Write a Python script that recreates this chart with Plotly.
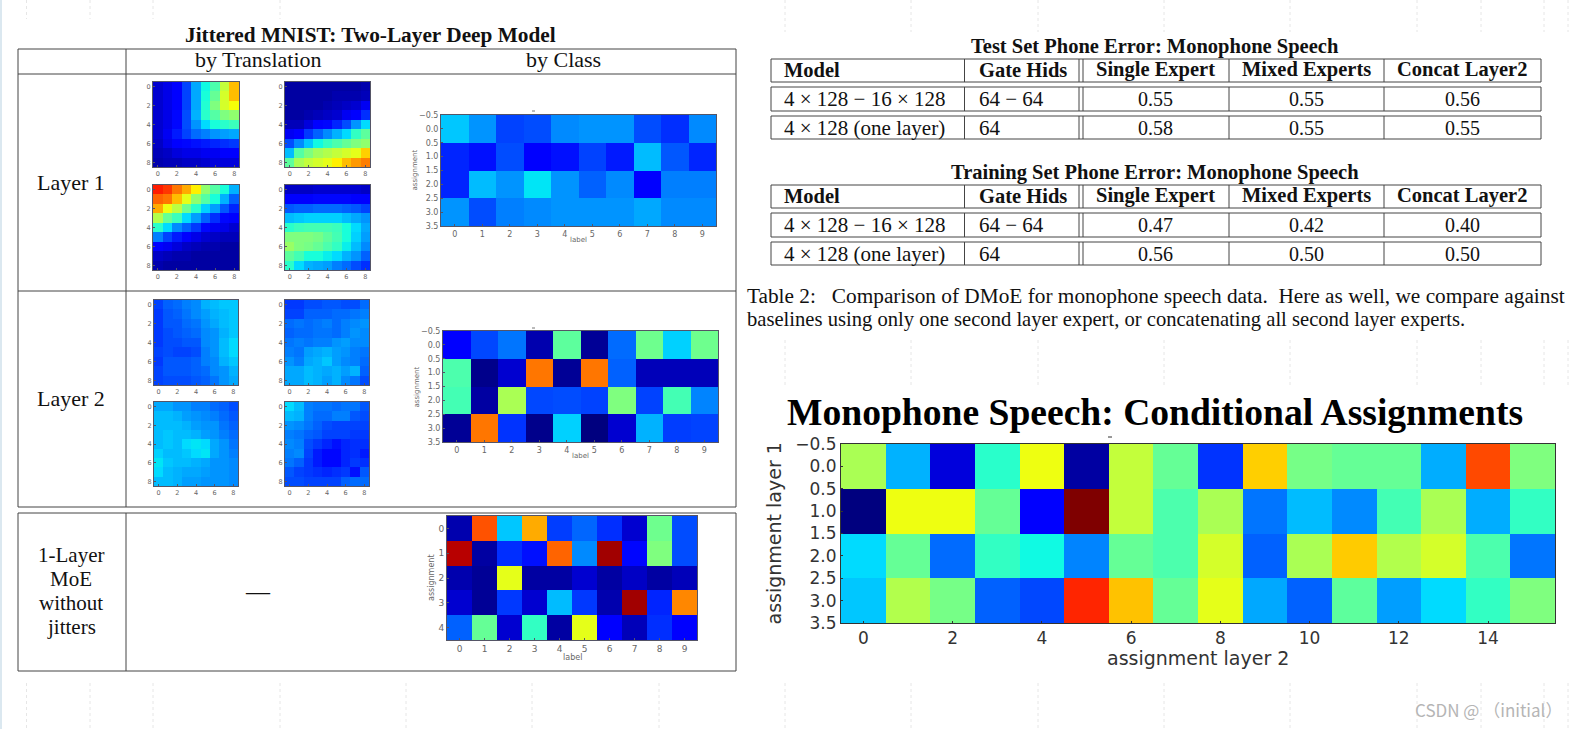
import plotly.graph_objects as go

# ---------- data ----------
L1_A = [[.07,.09,.12,.19,.29,.37,.44,.58,.70],[.07,.09,.12,.19,.29,.38,.47,.60,.70],[.07,.09,.12,.19,.29,.39,.50,.60,.64],
        [.07,.09,.13,.20,.30,.40,.45,.50,.52],[.07,.09,.13,.20,.27,.34,.38,.40,.42],[.07,.10,.15,.19,.23,.25,.27,.28,.29],
        [.06,.09,.11,.13,.14,.15,.16,.17,.18],[.05,.06,.08,.09,.09,.10,.10,.11,.11],[.04,.05,.05,.06,.06,.07,.08,.08,.08]]
L1_B = [[.03,.03,.03,.03,.03,.03,.03,.03,.04],[.03,.03,.03,.03,.03,.04,.04,.04,.05],[.03,.03,.03,.03,.04,.05,.06,.07,.10],
        [.03,.03,.04,.05,.06,.07,.10,.12,.17],[.05,.05,.08,.11,.13,.16,.20,.27,.34],[.10,.11,.18,.22,.26,.30,.34,.41,.46],
        [.20,.26,.32,.37,.41,.44,.47,.50,.52],[.31,.45,.50,.54,.56,.58,.60,.62,.68],[.46,.55,.58,.60,.62,.65,.70,.74,.77]]
L1_C = [[.88,.85,.78,.72,.65,.52,.45,.38,.30],[.80,.78,.70,.62,.52,.45,.38,.30,.22],[.72,.63,.57,.48,.40,.33,.28,.21,.16],
        [.56,.47,.42,.34,.28,.22,.17,.13,.11],[.40,.34,.26,.22,.18,.13,.10,.09,.07],[.25,.19,.15,.11,.09,.07,.06,.05,.05],
        [.11,.10,.08,.06,.05,.04,.04,.03,.03],[.06,.05,.04,.04,.03,.03,.03,.03,.03],[.04,.03,.03,.03,.03,.03,.03,.03,.03]]
L1_D = [[.06,.06,.06,.07,.07,.07,.07,.07,.06],[.11,.12,.12,.13,.13,.13,.13,.12,.11],[.21,.22,.22,.23,.23,.23,.22,.21,.19],
        [.31,.32,.33,.33,.33,.33,.31,.29,.27],[.40,.42,.43,.43,.43,.42,.38,.34,.29],[.50,.50,.50,.49,.46,.43,.38,.33,.28],
        [.53,.50,.49,.47,.44,.41,.36,.31,.26],[.46,.43,.38,.38,.36,.34,.30,.27,.22],[.40,.34,.30,.29,.28,.25,.23,.20,.17]]
L2_A = [[.19,.22,.23,.25,.26,.30,.31,.32,.32],[.18,.21,.22,.24,.26,.28,.30,.31,.32],[.18,.21,.21,.23,.24,.27,.29,.31,.32],
        [.18,.20,.21,.22,.23,.26,.27,.30,.32],[.18,.20,.20,.21,.21,.26,.27,.31,.34],[.19,.20,.19,.19,.20,.25,.27,.31,.34],
        [.18,.21,.21,.21,.22,.25,.26,.30,.32],[.19,.21,.21,.21,.22,.23,.26,.27,.30],[.19,.20,.20,.20,.21,.22,.24,.27,.29]]
L2_B = [[.18,.18,.20,.20,.21,.21,.20,.20,.23],[.19,.19,.22,.22,.22,.23,.23,.24,.25],[.23,.24,.23,.24,.25,.23,.25,.26,.27],
        [.22,.23,.23,.24,.24,.23,.25,.27,.26],[.24,.25,.24,.25,.25,.27,.28,.26,.26],[.25,.24,.28,.29,.30,.28,.27,.25,.24],
        [.27,.25,.29,.30,.32,.28,.26,.25,.23],[.29,.29,.31,.30,.29,.30,.28,.30,.22],[.29,.29,.31,.30,.28,.30,.26,.24,.20]]
L2_C = [[.29,.29,.27,.27,.25,.25,.23,.22,.20],[.31,.31,.30,.28,.27,.26,.25,.23,.21],[.31,.31,.31,.30,.28,.27,.27,.24,.22],
        [.31,.32,.31,.31,.30,.28,.27,.25,.23],[.31,.32,.31,.34,.35,.34,.29,.27,.24],[.33,.31,.31,.32,.34,.35,.29,.27,.25],
        [.35,.32,.31,.31,.30,.29,.27,.27,.26],[.34,.31,.30,.29,.29,.28,.27,.27,.26],[.31,.31,.30,.28,.28,.27,.27,.27,.26]]
L2_D = [[.34,.31,.25,.24,.24,.23,.24,.24,.21],[.31,.30,.25,.23,.23,.25,.25,.21,.20],[.27,.26,.24,.22,.20,.19,.19,.19,.19],
        [.25,.24,.22,.21,.19,.19,.19,.18,.18],[.26,.25,.20,.18,.16,.14,.16,.17,.17],[.25,.26,.19,.15,.13,.13,.16,.17,.15],
        [.24,.22,.18,.15,.13,.13,.16,.18,.17],[.21,.19,.18,.17,.16,.17,.18,.14,.21],[.20,.20,.19,.19,.19,.19,.22,.23,.23]]
CLASS_L1 = [[.32,.27,.19,.20,.26,.27,.27,.20,.17,.26],[.16,.14,.20,.12,.14,.19,.15,.31,.21,.16],
            [.16,.31,.27,.35,.27,.22,.26,.12,.25,.25],[.27,.20,.25,.26,.27,.27,.27,.29,.26,.26]]
CLASS_L2 = [[.11,.195,.24,.04,.46,.02,.23,.48,.33,.48],[.44,.01,.07,.78,.02,.78,.22,.05,.05,.05],
            [.43,.03,.55,.195,.20,.19,.50,.19,.43,.255],[.02,.78,.175,.01,.33,.00,.07,.30,.185,.19]]
CLASS_NOJIT = [[.04,.82,.32,.72,.185,.225,.17,.07,.48,.20],[.95,.03,.17,.14,.80,.26,.97,.13,.50,.20],
               [.04,.02,.62,.03,.03,.07,.03,.06,.03,.05],[.07,.02,.18,.07,.31,.18,.04,.97,.16,.76],
               [.22,.47,.07,.41,.03,.62,.12,.05,.17,.12]]
MONO = [[.55,.30,.08,.40,.63,.03,.58,.47,.175,.68,.49,.47,.47,.295,.83,.50],
        [.00,.63,.63,.47,.11,1.0,.58,.44,.55,.24,.31,.26,.43,.55,.295,.41],
        [.34,.47,.23,.41,.37,.255,.47,.44,.60,.22,.55,.685,.56,.60,.44,.24],
        [.32,.56,.49,.22,.195,.87,.695,.47,.62,.29,.22,.46,.28,.34,.41,.50]]
HEADERS = ["Model", "Gate Hids", "Single Expert", "Mixed Experts", "Concat Layer2"]
MODELS = ["4 × 128 − 16 × 128", "4 × 128 (one layer)"]
GATES = ["64 − 64", "64"]
TEST_ERR = [["0.55", "0.55", "0.56"], ["0.58", "0.55", "0.55"]]
TRAIN_ERR = [["0.47", "0.42", "0.40"], ["0.56", "0.50", "0.50"]]

# ---------- helpers ----------
W, H = 1569, 729
JET = [[0,"rgb(0,0,127)"],[.11,"rgb(0,0,255)"],[.125,"rgb(0,0,255)"],[.34,"rgb(0,219,255)"],[.35,"rgb(0,229,246)"],
       [.375,"rgb(20,255,222)"],[.5,"rgb(127,255,127)"],[.64,"rgb(246,255,8)"],[.65,"rgb(255,240,0)"],[.66,"rgb(255,225,0)"],
       [.89,"rgb(255,19,0)"],[.91,"rgb(229,0,0)"],[1,"rgb(127,0,0)"]]
SERIF, SANS = "Liberation Serif", "DejaVu Sans"
fig = go.Figure()
shapes, notes = [], []
count = 0

def px(x): return x / W
def py(y): return 1 - y / H

def line(x0, y0, x1, y1, color="#444", width=1, dash=None):
    shapes.append(dict(type="line", xref="paper", yref="paper", x0=px(x0), x1=px(x1), y0=py(y0), y1=py(y1),
                       line=dict(color=color, width=width, dash=dash), layer="below"))

def text(x, y, s, size, bold=False, font=SERIF, color="#111", anchor="center", angle=0):
    if bold: s = "<b>" + s + "</b>"
    notes.append(dict(xref="paper", yref="paper", x=px(x), y=py(y), text=s, showarrow=False, xanchor=anchor,
                      yanchor="middle", textangle=angle, font=dict(family=font, size=size, color=color)))

def panel(z, box, tick=6.5, xdtick=2, ydtick=2, y0=0, yfmt=None, xtitle=None, ytitle=None, title_size=7,
          tcolor="#666", frame="#556"):
    global count
    count += 1
    s = "" if count == 1 else str(count)
    x0, y0_, x1, y1 = box
    rows, cols = len(z), len(z[0])
    fig.add_trace(go.Heatmap(z=z, x=list(range(cols)), y=list(range(rows)), xaxis="x" + s, yaxis="y" + s,
                             colorscale=JET, zmin=0, zmax=1, showscale=False))
    base = dict(showline=True, mirror=True, linecolor=frame, linewidth=1, ticks="inside", ticklen=2, tickcolor=frame,
                showgrid=False, zeroline=False, tickfont=dict(family=SANS, size=tick, color=tcolor))
    xa = dict(base, domain=[px(x0), px(x1)], range=[-.5, cols - .5], dtick=xdtick, tick0=0, anchor="y" + s)
    ya = dict(base, domain=[py(y1), py(y0_)], range=[rows - .5, -.5], dtick=ydtick, tick0=y0, anchor="x" + s)
    if yfmt: ya["tickformat"] = yfmt
    fig.update_layout({"xaxis" + s: xa, "yaxis" + s: ya})
    if xtitle:
        text((x0 + x1) / 2, xtitle[0], "label" if xtitle[1] is None else xtitle[1], title_size, font=SANS, color=tcolor)
    if ytitle:
        text(ytitle[0], (y0_ + y1) / 2, "assignment" if ytitle[1] is None else ytitle[1], title_size, font=SANS,
             color=tcolor, angle=-90)

def table(top, title, title_y, values):
    X = [771, 964.5, 1079, 1083, 1229, 1384, 1541]
    ys = [(top, top + 23), (top + 28, top + 52), (top + 57, top + 80)]
    for a, b in ys:
        line(X[0], a, X[-1], a); line(X[0], b, X[-1], b)
        for v in X: line(v, a, v, b)
    text(1155, title_y, title, 20.5, bold=True)
    lefts = [782, 977]
    mids = [1155, 1306, 1462]
    cy = ys[0][0] + 11
    for i, h in enumerate(HEADERS):
        if i < 2: text(lefts[i], cy, h, 20.5, bold=True, anchor="left")
        else: text(mids[i - 2], cy, h, 20.5, bold=True)
    for r in range(2):
        cy = ys[r + 1][0] + 12
        text(lefts[0], cy, MODELS[r], 21, anchor="left")
        text(lefts[1], cy, GATES[r], 21, anchor="left")
        for c in range(3):
            text(mids[c], cy, values[r][c], 20)

# ---------- faint page furniture ----------
for x in [26.5, 90, 153, 280, 406, 532, 659, 785, 911, 1038, 1164, 1290, 1417, 1481, 1544, 1568]:
    line(x, 683, x, 729, "#e6e6e6", 1, "dot")
    if x < 300: line(x, 0, x, 19, "#e6e6e6", 1, "dot")
    if x >= 785:
        line(x, 0, x, 32, "#e6e6e6", 1, "dot")
        line(x, 340, x, 385, "#e6e6e6", 1, "dot")
line(1, 0, 1, 729, "#dbe8f0", 2)

# ---------- left table ----------
for y in [49, 74, 291, 507, 513, 671]:
    line(18, y, 736, y)
line(18, 49, 18, 507); line(126, 49, 126, 507); line(736, 49, 736, 507)
line(18, 513, 18, 671); line(126, 513, 126, 671); line(736, 513, 736, 671)
text(370, 35, "Jittered MNIST: Two-Layer Deep Model", 21.3, bold=True)
text(258, 60, "by Translation", 22)
text(563, 60, "by Class", 22)
text(71, 182, "Layer 1", 22)
text(71, 398, "Layer 2", 22)
for i, s in enumerate(["1-Layer", "MoE", "without", "jitters"]):
    text(71, 555 + 24 * i, s, 21)
text(258, 591, "—", 24)

# ---------- panels ----------
panel(L1_A, (153, 82, 239, 167)); panel(L1_B, (285, 82, 370, 167))
panel(L1_C, (153, 185, 239, 270)); panel(L1_D, (285, 185, 370, 270))
panel(L2_A, (154, 300, 238, 385)); panel(L2_B, (285, 300, 369, 385))
panel(L2_C, (154, 402, 238, 486)); panel(L2_D, (285, 402, 369, 486))
panel(CLASS_L1, (441, 115, 716, 226), tick=8, xdtick=1, ydtick=.5, y0=-.5, yfmt=".1f",
      xtitle=(240, None), ytitle=(415, None), title_size=7)
panel(CLASS_L2, (443, 331, 718, 442), tick=8, xdtick=1, ydtick=.5, y0=-.5, yfmt=".1f",
      xtitle=(456, None), ytitle=(416, None), title_size=7)
panel(CLASS_NOJIT, (447, 516, 697, 640), tick=9, xdtick=1, ydtick=1,
      xtitle=(657, None), ytitle=(431, None), title_size=8)
panel(MONO, (841, 444, 1555, 623), tick=17, xdtick=2, ydtick=.5, y0=-.5, yfmt=".1f",
      xtitle=(658, "assignment layer 2"), ytitle=(773, "assignment layer 1"), title_size=19, tcolor="#333", frame="#333")
line(532, 111, 535, 111, "#777"); line(532, 328, 535, 328, "#777"); line(1108, 437, 1112, 437, "#333")

# ---------- right column ----------
table(59, "Test Set Phone Error: Monophone Speech", 46, TEST_ERR)
table(185, "Training Set Phone Error: Monophone Speech", 172, TRAIN_ERR)
text(745, 296, "Table 2:   Comparison of DMoE for monophone speech data.  Here as well, we compare against", 21.3, anchor="left")
text(745, 320, "baselines using only one second layer expert, or concatenating all second layer experts.", 20.6, anchor="left")
text(1155, 412, "Monophone Speech: Conditional Assignments", 37.6, bold=True, color="#000")
text(1564, 709, "CSDN @ （initial）", 17, font="Noto Sans CJK SC", color="#b5b5b5", anchor="right")

fig.update_layout(width=W, height=H, margin=dict(l=0, r=0, t=0, b=0, autoexpand=False), paper_bgcolor="white",
                  plot_bgcolor="white", showlegend=False, shapes=shapes, annotations=notes)
fig.write_html("out.html", config=dict(displayModeBar=False),
               post_script="document.body.style.margin='0';document.documentElement.style.overflow='hidden';")
